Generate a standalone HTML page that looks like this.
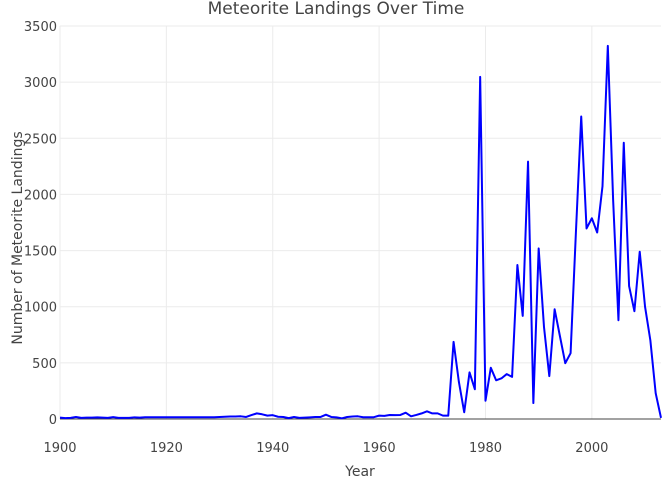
<!DOCTYPE html>
<html><head><meta charset="utf-8"><style>
body{margin:0;background:#fff;}
svg{display:block;font-family:"DejaVu Sans","Liberation Sans",sans-serif;}
</style></head><body>
<svg id="chart" width="672" height="480"></svg>
<script>
const years=[];for(let y=1900;y<=2013;y++)years.push(y);
const counts=[12,8,10,18,10,12,12,14,12,10,17,10,10,10,15,12,16,16,16,16,16,16,16,16,16,16,16,16,16,16,18,20,22,22,24,18,35,50,42,30,34,20,18,8,18,10,12,15,18,18,38,18,15,6,18,22,24,16,16,16,30,28,36,34,36,56,24,36,50,68,50,50,30,30,
687,330,60,415,265,3047,163,456,345,362,400,375,1371,918,2292,142,1519,820,382,977,737,497,586,1661,2694,1697,1788,1661,2073,3323,1950,880,2460,1184,960,1490,1000,700,230,10];
const xTicks=[1900,1920,1940,1960,1980,2000];
const yTicks=[0,500,1000,1500,2000,2500,3000,3500];
const NS="http://www.w3.org/2000/svg";
const svg=document.getElementById('chart');
const X=v=>60+(v-1900)*(601/113);
const Y=v=>419-v*(393/3500);
function mk(t,a,txt){const e=document.createElementNS(NS,t);for(const k in a)e.setAttribute(k,a[k]);if(txt!==undefined)e.textContent=txt;svg.appendChild(e);return e;}
xTicks.forEach(t=>{
 const g=mk('line',{x1:X(t),x2:X(t),y1:26,y2:419,stroke:'#ebebeb','stroke-width':1});
 
 
 const l=mk('text',{x:X(t),y:452,'text-anchor':'middle','font-size':13,fill:'#444'},t);
 
 
});
yTicks.forEach(t=>{
 if(t>0){const g=mk('line',{x1:60,x2:661,y1:Y(t),y2:Y(t),stroke:'#ebebeb','stroke-width':1});
 
 }
 const l=mk('text',{x:57,y:Y(t)+5,'text-anchor':'end','font-size':13,fill:'#444'},t);
 
 
});
const z=mk('line',{x1:60,x2:661,y1:419,y2:419,stroke:'#444','stroke-width':1});


const p=mk('polyline',{points:years.map((y,i)=>X(y)+','+Y(counts[i])).join(' '),fill:'none',stroke:'#0000ff','stroke-width':2,'stroke-linejoin':'round'});


const t=mk('text',{x:336,y:14,'text-anchor':'middle','font-size':17,fill:'#444'},'Meteorite Landings Over Time');


const xt=mk('text',{x:360,y:476,'text-anchor':'middle','font-size':14,fill:'#444'},'Year');


const yt=mk('text',{x:22,y:238,'text-anchor':'middle','font-size':14,fill:'#444',transform:'rotate(-90 22 238)'},'Number of Meteorite Landings');


</script>
</body></html>
